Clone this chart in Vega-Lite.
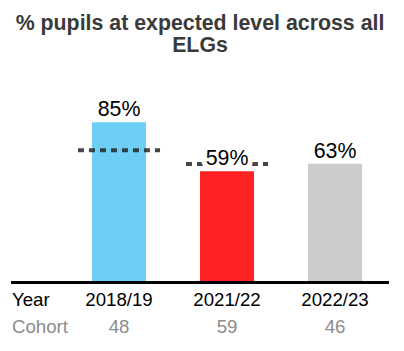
{
  "$schema": "https://vega.github.io/schema/vega-lite/v6.json",
  "width": 378,
  "height": 245,
  "autosize": "none",
  "padding": {"left": 11, "top": 94, "right": 15, "bottom": 12},
  "background": "white",
  "config": {"view": {"stroke": null}, "font": "Liberation Sans"},
  "title": {
    "text": ["% pupils at expected level across all", "ELGs"],
    "font": "Liberation Sans",
    "fontSize": 21.33,
    "fontWeight": "bold",
    "color": "#3a3a3a",
    "lineHeight": 22,
    "anchor": "middle",
    "offset": 38
  },
  "datasets": {
    "bars": [
      {"year": "2018/19", "pct": 0.85, "target": 0.701, "cohort": "48"},
      {"year": "2021/22", "pct": 0.59, "target": 0.629, "cohort": "59"},
      {"year": "2022/23", "pct": 0.63, "target": null, "cohort": "46"}
    ],
    "rowlabels": [
      {"year": "label", "text": "Year", "row": "Year"},
      {"year": "label", "text": "Cohort", "row": "Cohort"}
    ]
  },
  "data": {"name": "bars"},
  "layer": [
    {
      "mark": {"type": "bar", "width": {"band": 0.6585}},
      "encoding": {
        "x": {
          "field": "year",
          "type": "nominal",
          "scale": {
            "domain": ["label", "2018/19", "2021/22", "2022/23"],
            "range": [-54, 378],
            "paddingInner": 0.24,
            "paddingOuter": 0.12
          },
          "axis": null
        },
        "y": {
          "field": "pct",
          "type": "quantitative",
          "scale": {"domain": [-0.3, 1.0], "nice": false, "zero": false},
          "axis": null
        },
        "y2": {"datum": 0},
        "color": {
          "field": "year",
          "type": "nominal",
          "scale": {
            "domain": ["2018/19", "2021/22", "2022/23"],
            "range": ["#6dcff6", "#fe2222", "#cccccc"]
          },
          "legend": null
        }
      }
    },
    {
      "transform": [{"filter": "isValid(datum.target)"}],
      "mark": {
        "type": "rule",
        "strokeDash": [6, 5],
        "strokeWidth": 4,
        "color": "#262626",
        "opacity": 0.85,
        "strokeCap": "butt"
      },
      "encoding": {
        "x": {"field": "year", "type": "nominal", "bandPosition": 0},
        "x2": {"field": "year", "bandPosition": 1},
        "y": {"field": "target", "type": "quantitative"}
      }
    },
    {
      "mark": {
        "type": "text",
        "fontSize": 21.33,
        "baseline": "alphabetic",
        "dy": -6,
        "stroke": "white",
        "strokeWidth": 10,
        "fill": "white"
      },
      "encoding": {
        "x": {"field": "year", "type": "nominal"},
        "y": {"field": "pct", "type": "quantitative"},
        "text": {"field": "pct", "type": "quantitative", "format": ".0%"}
      }
    },
    {
      "mark": {
        "type": "text",
        "fontSize": 21.33,
        "baseline": "alphabetic",
        "dy": -6,
        "color": "#000000"
      },
      "encoding": {
        "x": {"field": "year", "type": "nominal"},
        "y": {"field": "pct", "type": "quantitative"},
        "text": {"field": "pct", "type": "quantitative", "format": ".0%"}
      }
    },
    {
      "mark": {"type": "rule", "color": "#000000", "strokeWidth": 2.5},
      "encoding": {"y": {"datum": 0}}
    },
    {
      "mark": {"type": "text", "fontSize": 18.67, "baseline": "alphabetic", "color": "#000000"},
      "encoding": {
        "x": {"field": "year", "type": "nominal"},
        "y": {"datum": -0.1275},
        "text": {"field": "year"}
      }
    },
    {
      "mark": {"type": "text", "fontSize": 18.67, "baseline": "alphabetic", "color": "#8c8c8c"},
      "encoding": {
        "x": {"field": "year", "type": "nominal"},
        "y": {"datum": -0.268},
        "text": {"field": "cohort"}
      }
    },
    {
      "data": {"name": "rowlabels"},
      "transform": [{"filter": "datum.row == 'Year'"}],
      "mark": {"type": "text", "fontSize": 18.67, "baseline": "alphabetic", "align": "left", "dx": 1, "color": "#000000"},
      "encoding": {
        "x": {"field": "year", "type": "nominal"},
        "y": {"datum": -0.1275},
        "text": {"field": "text"}
      }
    },
    {
      "data": {"name": "rowlabels"},
      "transform": [{"filter": "datum.row == 'Cohort'"}],
      "mark": {"type": "text", "fontSize": 18.67, "baseline": "alphabetic", "align": "left", "dx": 1, "color": "#8c8c8c"},
      "encoding": {
        "x": {"field": "year", "type": "nominal"},
        "y": {"datum": -0.268},
        "text": {"field": "text"}
      }
    }
  ]
}
